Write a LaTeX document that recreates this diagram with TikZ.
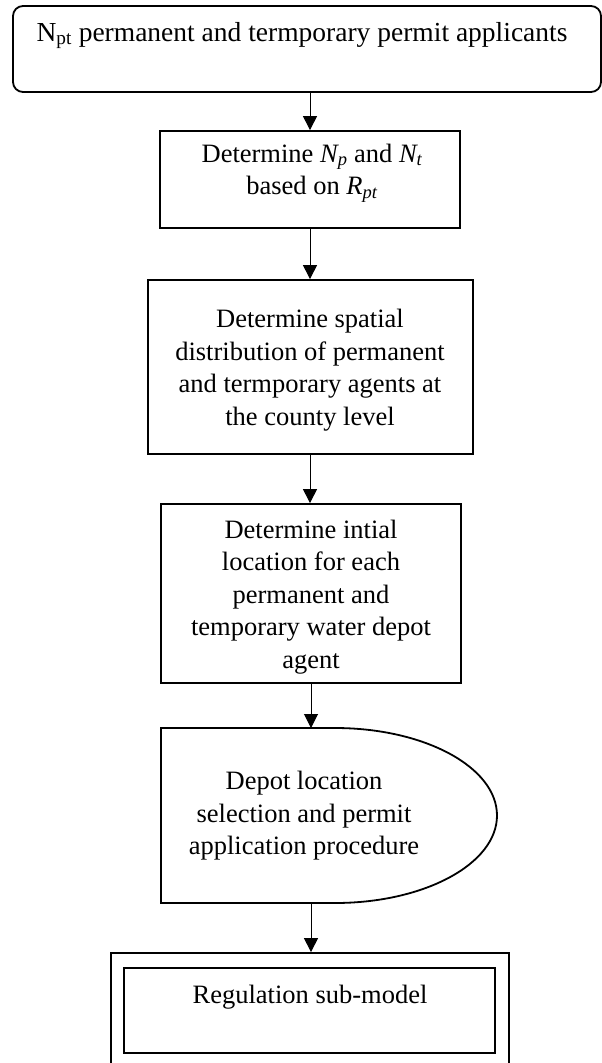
\documentclass[tikz,border=0pt]{standalone}
\usepackage{fontspec}
\setmainfont{Liberation Serif}
\usetikzlibrary{arrows.meta}

\begin{document}
\begin{tikzpicture}[x=1pt,y=-1pt,
  boxline/.style={draw=black,line width=1.8pt,inner sep=0pt},
  txt/.style={inner sep=0pt,align=center,font=\fontsize{26.5}{32.5}\selectfont},
  arr/.style={draw=black,line width=1pt,-{Triangle[width=14pt,length=14pt]}}]

\useasboundingbox (0,0) rectangle (602,1063);

% start: applicants
\node[boxline,rounded corners=10pt,minimum width=588pt,minimum height=86pt] (b1) at (307,49) {};
\node[txt,anchor=base,font=\fontsize{27.5}{32.5}\selectfont] (t1) at (302,41) {N\textsubscript{pt} permanent and termporary permit applicants};

% split by ratio
\node[boxline,minimum width=300pt,minimum height=97pt] (b2) at (310,179.5) {};
\node[txt] (t2) at (312,173) {Determine \textit{N\textsubscript{p}} and \textit{N\textsubscript{t}}\\based on \textit{R\textsubscript{pt}}};

% spatial distribution
\node[boxline,minimum width=325pt,minimum height=174pt] (b3) at (310.5,367) {};
\node[txt] (t3) at (310,370) {Determine spatial\\distribution of permanent\\and termporary agents at\\the county level};

% initial location
\node[boxline,minimum width=300pt,minimum height=179pt] (b4) at (311,593.5) {};
\node[txt] (t4) at (311,597) {Determine intial\\location for each\\permanent and\\temporary water depot\\agent};

% delay-shaped step
\draw[line width=1.8pt] (161,728) -- (335,728)
  arc[start angle=90,end angle=-90,x radius=162pt,y radius=87.5pt]
  -- (161,903) -- cycle;
\coordinate (dTop) at (311,728);
\coordinate (dBot) at (311,903);
\node[txt] (t5) at (304,816) {Depot location\\selection and permit\\application procedure};

% predefined process: regulation sub-model
\node[boxline,minimum width=398pt,minimum height=115pt] (b6o) at (310,1010.5) {};
\node[boxline,minimum width=371pt,minimum height=85pt] (b6i) at (309.5,1010.5) {};
\node[txt,anchor=base] (t6) at (310,1003) {Regulation sub-model};

% connectors
\draw[arr] (b1.south -| b2.north) -- (b2.north);
\draw[arr] (b2.south) -- (b3.north -| b2.south);
\draw[arr] (b3.south -| b2.south) -- (b4.north -| b2.south);
\draw[arr] (b4.south) -- (dTop);
\draw[arr] (dBot) -- (b6o.north -| dBot);
\end{tikzpicture}
\end{document}
